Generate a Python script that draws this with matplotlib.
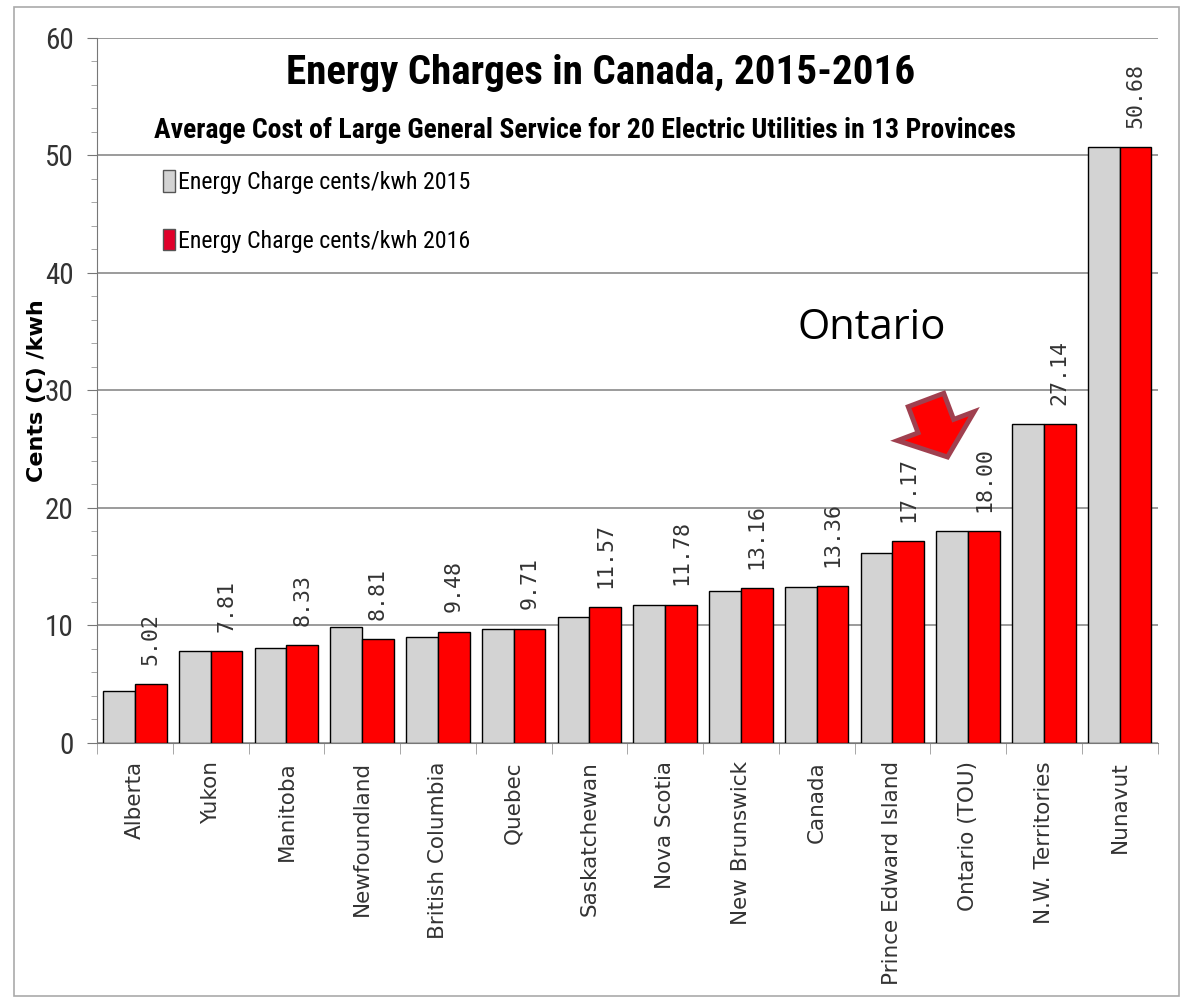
import numpy as np
import matplotlib.pyplot as plt
from matplotlib import font_manager
from matplotlib.patches import FancyArrow, Patch, Rectangle
from matplotlib.ticker import MultipleLocator
from matplotlib.transforms import IdentityTransform

# Datos
regiones = ["Alberta", "Yukon", "Manitoba", "Newfoundland", "British Columbia", "Quebec",
            "Saskatchewan", "Nova Scotia", "New Brunswick", "Canada", "Prince Edward Island",
            "Ontario (TOU)", "N.W. Territories", "Nunavut"]
cargo_2015 = [4.45, 7.81, 8.10, 9.85, 9.00, 9.68, 10.70, 11.78, 12.96, 13.25, 16.20, 18.00, 27.14, 50.68]
cargo_2016 = [5.02, 7.81, 8.33, 8.81, 9.48, 9.71, 11.57, 11.78, 13.16, 13.36, 17.17, 18.00, 27.14, 50.68]

# Buscar una fuente estrecha parecida a Calibri
disponibles = {f.name for f in font_manager.fontManager.ttflist}
candidatas = ['Liberation Sans Narrow', 'DejaVu Sans Condensed', 'Roboto Condensed',
              'Open Sans Condensed', 'Noto Sans Condensed', 'Noto Sans Display', 'Roboto']
estrecha = next((c for c in candidatas if c in disponibles), 'DejaVu Sans')
FUENTE_TITULO = [estrecha, 'DejaVu Sans']

fig = plt.figure(figsize=(11.86, 9.99), dpi=100)
ax = fig.add_axes([0.0818, 0.2563, 0.976 - 0.0818, 0.962 - 0.2563])

x = np.arange(len(regiones))
ancho = 0.42
ax.bar(x - ancho / 2, cargo_2015, width=ancho, color='#d3d3d3', edgecolor='black', linewidth=1.0, zorder=3)
ax.bar(x + ancho / 2, cargo_2016, width=ancho, color='#ff0000', edgecolor='black', linewidth=1.0, zorder=3)

# Etiquetas de valor sobre las barras 2016
for xi, v in zip(x, cargo_2016):
    ax.annotate(f"{v:.2f}", (xi + ancho / 2, v), xytext=(0, 14), textcoords='offset points',
                rotation=90, ha='center', va='bottom', fontsize=15.5,
                family='DejaVu Sans Mono', color='#333333')

ax.set_xlim(-0.5, len(regiones) - 0.5)
ax.set_ylim(0, 60)
ax.yaxis.set_major_locator(MultipleLocator(10))
ax.yaxis.set_minor_locator(MultipleLocator(2))
ax.grid(axis='y', which='major', color='#8a8a8a', linewidth=1.2, zorder=0)
ax.set_xticks(x)
ax.set_xticklabels(regiones, rotation=90)
ax.set_xticks(np.arange(-0.5, len(regiones)), minor=True)
ax.tick_params(axis='x', which='major', length=0, pad=13)
ax.tick_params(axis='x', which='minor', length=8, color='#999999', direction='out')
ax.tick_params(axis='y', which='major', length=7, color='#777777', pad=10)
ax.tick_params(axis='y', which='minor', length=4, color='#999999')
for lab in ax.get_xticklabels():
    lab.set_fontfamily('DejaVu Sans')
    lab.set_fontsize(15.5)
    lab.set_color('#333333')
for lab in ax.get_yticklabels():
    lab.set_fontfamily(FUENTE_TITULO)
    lab.set_fontsize(21)
    lab.set_color('#333333')
for lado in ['top', 'right']:
    ax.spines[lado].set_visible(False)
ax.spines['left'].set_color('#777777')
ax.spines['bottom'].set_color('#777777')

ax.set_ylabel('Cents (C) /kwh', fontsize=16, fontweight='bold')
ax.yaxis.set_label_coords(-0.047, 0.5)

# Títulos
fig.text(0.506, 0.927, 'Energy Charges in Canada, 2015-2016', ha='center', va='center',
         fontsize=29.5, fontweight='bold', family=FUENTE_TITULO)
fig.text(0.493, 0.869, 'Average Cost of Large General Service for 20 Electric Utilities in 13 Provinces',
         ha='center', va='center', fontsize=20, fontweight='bold', family=FUENTE_TITULO)

# Leyenda
manejadores = [Patch(facecolor='#d3d3d3', edgecolor='#555555', label='Energy Charge cents/kwh 2015'),
               Patch(facecolor='#e0002a', edgecolor='#555555', label='Energy Charge cents/kwh 2016')]
leg = fig.legend(handles=manejadores, loc='upper left', bbox_to_anchor=(0.119, 0.851), frameon=False,
                 handlelength=0.5, handleheight=1.0, handletextpad=0.15, labelspacing=1.45,
                 prop={'family': FUENTE_TITULO, 'size': 17.2})

# Anotación Ontario con flecha
fig.text(0.735, 0.672, 'Ontario', ha='center', va='center', fontsize=30, family='Open Sans')
flecha = FancyArrow(926, 999 - 400, 21.5, -57, width=38, head_width=82, head_length=33,
                    length_includes_head=True, facecolor='#ff0000', edgecolor='#a0404f',
                    linewidth=3.5, transform=IdentityTransform())
fig.add_artist(flecha)

# Marco exterior
fig.add_artist(Rectangle((0.012, 0.003), 0.982, 0.99, transform=fig.transFigure, fill=False,
                         edgecolor='#aaaaaa', linewidth=1.2))

plt.savefig('out.png', dpi=100)
plt.close()
